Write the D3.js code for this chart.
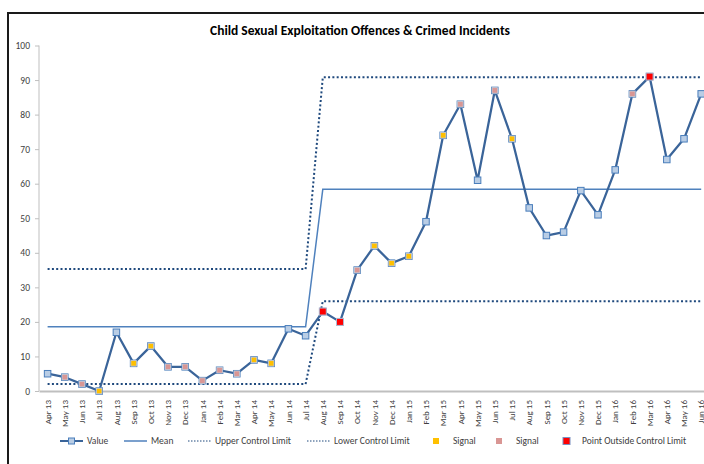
<!DOCTYPE html>
<html>
<head>
<meta charset="utf-8">
<script src="https://cdn.jsdelivr.net/npm/d3@7"></script>
<style>
  html, body { margin: 0; padding: 0; background: #fff; }
  svg { display: block; font-family: Carlito, Lato, "Open Sans", sans-serif; }
</style>
</head>
<body>
<svg id="chart" width="704" height="464"></svg>
<script>
const months = ["Apr 13","May 13","Jun 13","Jul 13","Aug 13","Sep 13","Oct 13","Nov 13","Dec 13","Jan 14","Feb 14","Mar 14",
  "Apr 14","May 14","Jun 14","Jul 14","Aug 14","Sep 14","Oct 14","Nov 14","Dec 14","Jan 15","Feb 15","Mar 15",
  "Apr 15","May 15","Jun 15","Jul 15","Aug 15","Sep 15","Oct 15","Nov 15","Dec 15","Jan 16","Feb 16","Mar 16",
  "Apr 16","May 16","Jun 16"];
const values = [5,4,2,0,17,8,13,7,7,3,6,5,9,8,18,16,23,20,35,42,37,39,49,74,83,61,87,73,53,45,46,58,51,64,86,91,67,73,86];
const meanVals = [18.6,18.6,18.6,18.6,18.6,18.6,18.6,18.6,18.6,18.6,18.6,18.6,18.6,18.6,18.6,18.6,
  58.4,58.4,58.4,58.4,58.4,58.4,58.4,58.4,58.4,58.4,58.4,58.4,58.4,58.4,58.4,58.4,58.4,58.4,58.4,58.4,58.4,58.4,58.4];
const uclVals = [35.3,35.3,35.3,35.3,35.3,35.3,35.3,35.3,35.3,35.3,35.3,35.3,35.3,35.3,35.3,35.3,
  90.8,90.8,90.8,90.8,90.8,90.8,90.8,90.8,90.8,90.8,90.8,90.8,90.8,90.8,90.8,90.8,90.8,90.8,90.8,90.8,90.8,90.8,90.8];
const lclVals = [2,2,2,2,2,2,2,2,2,2,2,2,2,2,2,2,
  26,26,26,26,26,26,26,26,26,26,26,26,26,26,26,26,26,26,26,26,26,26,26];
// signal type per month: "" none, "Y" yellow signal, "P" pink signal, "R" point outside control limit
const signals = ["","P","P","Y","","Y","Y","P","P","P","P","P","Y","Y","","","R","R","P","Y","Y","Y","","Y",
  "P","","P","Y","","","","","","","P","R","","",""];
const yTicks = [0,10,20,30,40,50,60,70,80,90,100];
const title = "Child Sexual Exploitation Offences & Crimed Incidents";
const legendItems = [
  {label:"Value", kind:"value"},
  {label:"Mean", kind:"mean"},
  {label:"Upper Control Limit", kind:"ucl"},
  {label:"Lower Control Limit", kind:"lcl"},
  {label:"Signal", kind:"Y"},
  {label:"Signal", kind:"P"},
  {label:"Point Outside Control Limit", kind:"R"}
];

const svg = d3.select("#chart");
const C = {
  line: "#3a6499", mean: "#4f81bd", limit: "#1f497d",
  mFill: "#b9cde5", mStroke: "#4a7ebb",
  Y: "#ffc000", P: "#d99694", R: "#ff0000", axis: "#bfbfbf", text: "#404040"
};

// chart frame
svg.append("rect").attr("x", 8).attr("y", 13).attr("width", 800).attr("height", 600)
  .attr("fill", "none").attr("stroke", "#1a1a1a").attr("stroke-width", 2);

const x = d3.scaleBand().domain(months).range([39, 39 + 17.2 * months.length]).paddingInner(0).paddingOuter(0);
const cx = m => x(m) + x.bandwidth() / 2;
const y = d3.scaleLinear().domain([0, 100]).range([391, 45.5]);

// title
svg.append("text").attr("x", 360).attr("y", 35).attr("text-anchor", "middle")
  .attr("font-weight", "bold").attr("font-size", 13.5).attr("fill", "#000").text(title);

// y axis
const yAxis = svg.append("g").attr("transform", "translate(39,0)")
  .call(d3.axisLeft(y).tickValues(yTicks).tickSize(4).tickPadding(5));
yAxis.select(".domain").remove();
yAxis.selectAll(".tick line").attr("stroke", C.axis);
yAxis.selectAll(".tick text").attr("fill", C.text).attr("font-size", 9.5).attr("font-family", "Carlito, Lato, sans-serif");
svg.append("line").attr("x1", 39).attr("x2", 39).attr("y1", y(100)).attr("y2", y(0))
  .attr("stroke", C.axis).attr("stroke-width", 1);

// x axis
const xAxis = svg.append("g").attr("transform", `translate(0,${y(0)})`)
  .call(d3.axisBottom(x).tickSize(0));
xAxis.select(".domain").attr("stroke", C.axis).attr("stroke-width", 2);
xAxis.selectAll(".tick text")
  .attr("transform", "rotate(-90)")
  .attr("x", -9).attr("y", 0).attr("dy", "0.35em")
  .attr("text-anchor", "end")
  .attr("fill", C.text).attr("font-size", 9).attr("font-family", "Carlito, Lato, sans-serif");

const lineGen = arr => d3.line().x((d, i) => cx(months[i])).y(d => y(d))(arr);

// control limits
svg.append("path").attr("d", lineGen(uclVals)).attr("fill", "none")
  .attr("stroke", C.limit).attr("stroke-width", 2).attr("stroke-dasharray", "2,2.3");
svg.append("path").attr("d", lineGen(lclVals)).attr("fill", "none")
  .attr("stroke", C.limit).attr("stroke-width", 2).attr("stroke-dasharray", "2,2.3");
// mean
svg.append("path").attr("d", lineGen(meanVals)).attr("fill", "none")
  .attr("stroke", C.mean).attr("stroke-width", 1.5);
// value line
svg.append("path").attr("d", lineGen(values)).attr("fill", "none")
  .attr("stroke", C.line).attr("stroke-width", 2.25).attr("stroke-linejoin", "round");

// value markers
const ms = 6.5;
svg.append("g").selectAll("rect").data(values).join("rect")
  .attr("x", (d, i) => cx(months[i]) - ms / 2).attr("y", d => y(d) - ms / 2)
  .attr("width", ms).attr("height", ms)
  .attr("fill", C.mFill).attr("stroke", C.mStroke).attr("stroke-width", 1);

// signal markers
const sig = values.map((v, i) => ({v, i, s: signals[i]})).filter(d => d.s !== "");
svg.append("g").selectAll("rect").data(sig).join("rect")
  .attr("x", d => cx(months[d.i]) - (d.s === "R" ? 3.5 : 2.75))
  .attr("y", d => y(d.v) - (d.s === "R" ? 3.5 : 2.75))
  .attr("width", d => d.s === "R" ? 7 : 5.5).attr("height", d => d.s === "R" ? 7 : 5.5)
  .attr("fill", d => C[d.s])
  .attr("stroke", d => d.s === "R" ? "#b0b8d0" : "#c4c8d4").attr("stroke-width", d => d.s === "R" ? 1 : 0.8);

// legend
const legX = [60, 124, 188, 307, 433, 496, 563];
const legY = 441;
const lg = svg.append("g");
legendItems.forEach((it, k) => {
  const x0 = legX[k];
  const g = lg.append("g").attr("transform", `translate(${x0},${legY})`);
  let textX;
  if (it.kind === "value") {
    g.append("line").attr("x1", 0).attr("x2", 23).attr("stroke", C.line).attr("stroke-width", 2);
    g.append("rect").attr("x", 8.5).attr("y", -3).attr("width", 6).attr("height", 6)
      .attr("fill", C.mFill).attr("stroke", C.mStroke);
    textX = 27;
  } else if (it.kind === "mean") {
    g.append("line").attr("x1", 0).attr("x2", 23).attr("stroke", C.mean).attr("stroke-width", 1.5);
    textX = 27;
  } else if (it.kind === "ucl" || it.kind === "lcl") {
    g.append("line").attr("x1", 0).attr("x2", 23).attr("stroke", C.limit).attr("stroke-width", 1)
      .attr("stroke-dasharray", "1.5,1.5");
    textX = 27;
  } else {
    const s = it.kind === "R" ? 7 : 6;
    g.append("rect").attr("x", 0).attr("y", -s / 2).attr("width", s).attr("height", s)
      .attr("fill", C[it.kind]).attr("stroke", it.kind === "R" ? "#7a8fc0" : "none").attr("stroke-width", 1);
    textX = it.kind === "R" ? 19 : 20;
  }
  g.append("text").attr("x", textX).attr("y", 0).attr("dy", "0.35em")
    .attr("font-size", 9.5).attr("fill", C.text).text(it.label);
});
</script>
</body>
</html>
